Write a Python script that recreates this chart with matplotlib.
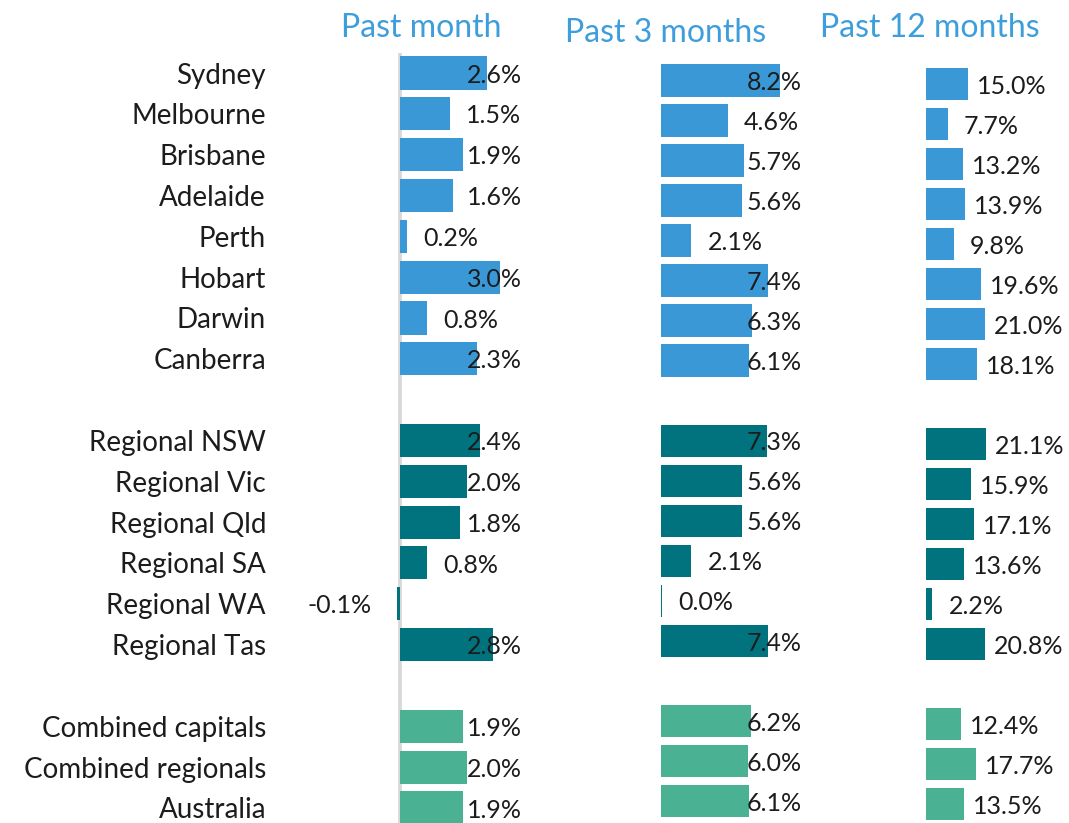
import matplotlib.pyplot as plt

plt.rcParams['font.family'] = ['Lato', 'DejaVu Sans']

cities = ['Sydney', 'Melbourne', 'Brisbane', 'Adelaide', 'Perth', 'Hobart', 'Darwin', 'Canberra']
regionals = ['Regional NSW', 'Regional Vic', 'Regional Qld', 'Regional SA', 'Regional WA', 'Regional Tas']
totals = ['Combined capitals', 'Combined regionals', 'Australia']

past_month = [2.6, 1.5, 1.9, 1.6, 0.2, 3.0, 0.8, 2.3,
              2.4, 2.0, 1.8, 0.8, -0.1, 2.8,
              1.9, 2.0, 1.9]
# Regional WA shows as 0.0% but still has a sliver of a bar
past_3_months = [8.2, 4.6, 5.7, 5.6, 2.1, 7.4, 6.3, 6.1,
                 7.3, 5.6, 5.6, 2.1, 0.04, 7.4,
                 6.2, 6.0, 6.1]
past_12_months = [15.0, 7.7, 13.2, 13.9, 9.8, 19.6, 21.0, 18.1,
                  21.1, 15.9, 17.1, 13.6, 2.2, 20.8,
                  12.4, 17.7, 13.5]

titles = ['Past month', 'Past 3 months', 'Past 12 months']

BLUE = '#3a98d6'
TEAL = '#00737f'
GREEN = '#4ab293'
TITLE = '#3d9edb'
TEXT = '#1c1c1c'

W, H = 1069, 823
fig = plt.figure(figsize=(W / 100, H / 100), dpi=100)

# rows with a blank slot between the groups
labels = cities + regionals + totals
slots = list(range(0, 8)) + list(range(9, 15)) + list(range(16, 19))
colors = [BLUE] * len(cities) + [TEAL] * len(regionals) + [GREEN] * len(totals)


def px_axes(left, right, top, bottom):
    return fig.add_axes([left / W, 1 - bottom / H, (right - left) / W, (bottom - top) / H])


# (zero px, px per %, left px, right px, first row centre, row spacing, label limit px)
panels = [
    (400, 33.3, 300, 524, 73, 40.83, 522),
    (661, 14.5, 640, 805, 80.5, 40.03, 802),
    (926, 2.82, 905, 1069, 84, 40.0, 1069),
]
title_pos = [(421, 28), (666, 33), (930, 28)]
series = [past_month, past_3_months, past_12_months]

texts = []
for i, (vals, p) in enumerate(zip(series, panels)):
    zero, scale, left, right, c0, sp, limit = p
    top = c0 - 0.5 * sp
    bottom = c0 + 18.5 * sp
    ax = px_axes(left, right, top, bottom)
    ax.set_xlim((left - zero) / scale, (right - zero) / scale)
    ax.set_ylim(18.5, -0.5)
    ax.barh(slots, vals, height=0.81, color=colors, zorder=2)
    for s in ax.spines.values():
        s.set_visible(False)
    ax.set_xticks([])
    if i == 0:
        ax.axvline(0, color='#d9d9d9', lw=2.8, zorder=1)
        ax.set_yticks(slots)
        ax.set_yticklabels(labels, fontsize=20, color=TEXT)
        ax.tick_params(axis='y', length=0, pad=(left - 266) * 0.72)
    else:
        ax.set_yticks([])
    for s, v in zip(slots, vals):
        if v < 0:
            t = ax.annotate(f'{v:.1f}%', (v, s), xytext=(-18, -1.5), textcoords='offset points',
                            ha='right', va='center', fontsize=18, color=TEXT, zorder=3)
        else:
            t = ax.annotate(f'{v:.1f}%', (v, s), xytext=(31.5, -1.5), textcoords='offset points',
                            ha='center', va='center', fontsize=18, color=TEXT, zorder=3)
        texts.append((t, limit))
    tx, ty = title_pos[i]
    fig.text(tx / W, 1 - ty / H, titles[i], ha='center', va='center', fontsize=23, color=TITLE)

# labels that would run past the plot area get pushed back inside it
fig.canvas.draw()
for t, limit in texts:
    bb = t.get_window_extent()
    if bb.x1 > limit:
        dx = (bb.x1 - limit) * 72 / fig.dpi
        t.xyann = (t.xyann[0] - dx, t.xyann[1])

fig.savefig('out.png', dpi=100)
